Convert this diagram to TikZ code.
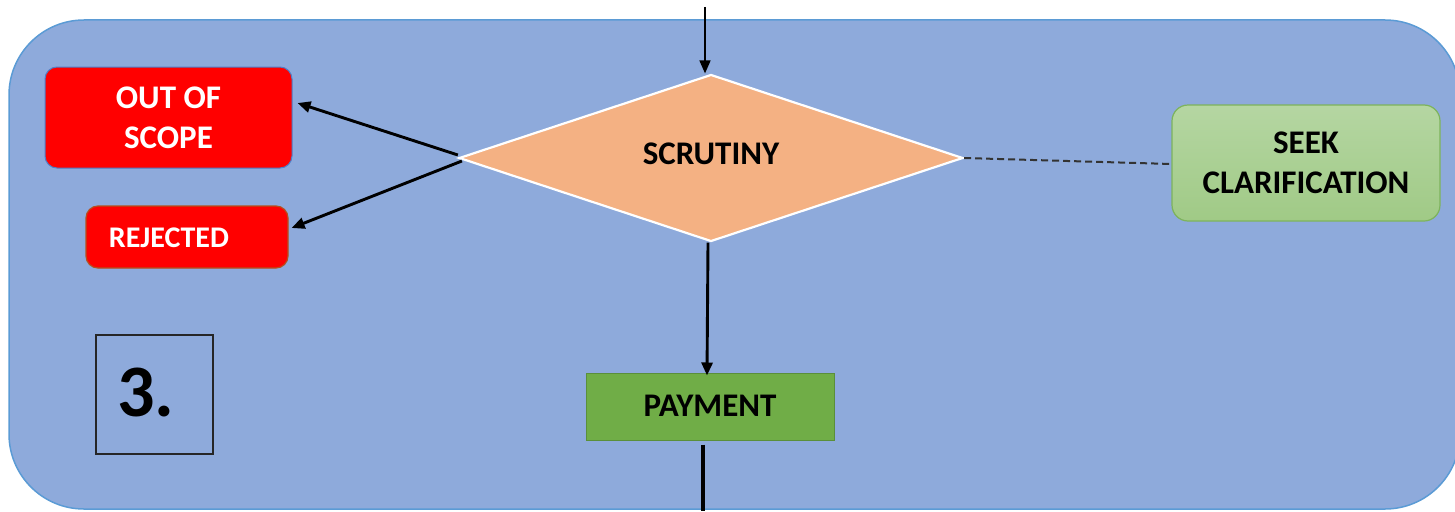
\documentclass[tikz,border=0pt]{standalone}
\usepackage{fontspec}
\setmainfont{Carlito}
\usetikzlibrary{shapes.geometric,arrows.meta}

\definecolor{panelfill}{HTML}{8EAADB}
\definecolor{panelline}{HTML}{5B9BD5}
\definecolor{redfill}{HTML}{FF0000}
\definecolor{oosline}{HTML}{4F7FC8}
\definecolor{rejline}{HTML}{B4501E}
\definecolor{decfill}{HTML}{F4B183}
\definecolor{seektop}{HTML}{B5D6A2}
\definecolor{seekbot}{HTML}{A0CA86}
\definecolor{seekline}{HTML}{7DB35C}
\definecolor{payfill}{HTML}{70AD47}
\definecolor{payline}{HTML}{5A8F3A}

\tikzset{
  lbl/.style={font=\bfseries\fontsize{33}{40}\selectfont, align=center},
  redbox/.style={lbl, text=white, fill=redfill, rounded corners=12pt, inner sep=0pt},
  flow/.style={-{Triangle[length=13pt,width=11pt]}, line width=2.9pt, black},
}

\begin{document}
\begin{tikzpicture}[x=1pt,y=-1pt]
\useasboundingbox (0,0) rectangle (1455,511);

% panel
\path[fill=panelfill, draw=panelline, line width=1.5pt, rounded corners=75pt]
  (9,20) rectangle (1460,509);

% decision
\node[diamond, lbl, fill=decfill, draw=white, line width=2.2pt,
      minimum width=504pt, minimum height=167pt, inner sep=0pt] (scr) at (711,158) {\raisebox{8pt}{SCRUTINY}};

% outcomes on the left
\node[redbox, draw=oosline, line width=1pt, minimum width=247pt, minimum height=101pt] (oos) at (168.5,117.5) {OUT OF\\SCOPE};
\node[redbox, draw=rejline, line width=1.2pt,
      minimum width=202pt, minimum height=62pt] (rej) at (187,237) {};
\node[lbl, text=white, font=\bfseries\fontsize{30}{36}\selectfont, inner sep=0pt] (rejtxt) at (169,238) {REJECTED};

% clarification
\node[lbl, top color=seektop, bottom color=seekbot, draw=seekline, line width=1.2pt,
      rounded corners=16pt, minimum width=268pt, minimum height=116pt, inner sep=0pt] (seek) at (1306,163) {SEEK\\CLARIFICATION};

% payment
\node[lbl, fill=payfill, draw=payline, line width=1pt,
      minimum width=248pt, minimum height=67pt, inner sep=0pt] (pay) at (710,406.5) {\raisebox{2pt}{PAYMENT}};

% step number
\node[draw=black!85, line width=1.2pt, minimum width=117pt, minimum height=119pt] (num) at (154.5,394.5) {};
\node[font=\bfseries\fontsize{74}{80}\selectfont, inner sep=0pt] (numtxt) at (146,392) {3.};

% connectors
\coordinate (in) at (705,7);
\coordinate (out) at (703,511);
\draw[-{Triangle[length=13pt,width=11pt]}, line width=1.6pt] (in) -- (scr.north -| in);
\draw[flow] ([yshift=3pt]scr.west) -- ([xshift=5pt,yshift=14.5pt]oos.east);
\draw[flow] ([xshift=4pt,yshift=-3pt]scr.west) -- ([xshift=3pt,yshift=9pt]rej.east);
\draw[flow] ([xshift=-3pt]scr.south) -- ([xshift=-3pt,yshift=-3pt]pay.north);
\draw[line width=2pt, black!80, dash pattern=on 7pt off 4pt] (scr.east) -- ([yshift=-1pt]seek.west);
\draw[line width=3.2pt] ([xshift=-7pt,yshift=-4pt]pay.south) -- (out);
\end{tikzpicture}
\end{document}
